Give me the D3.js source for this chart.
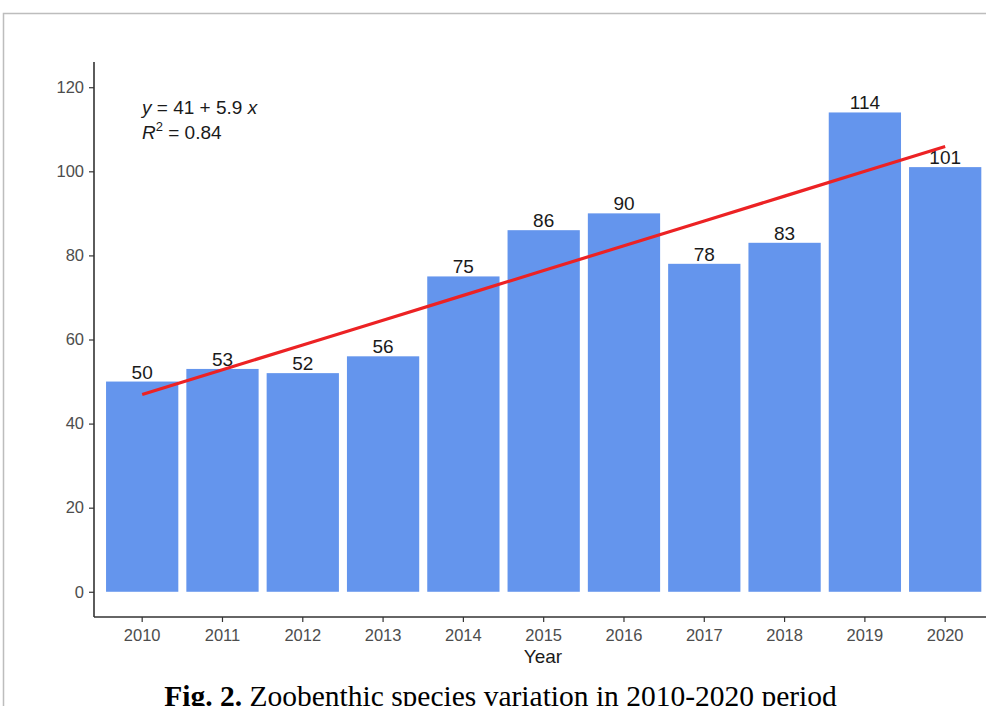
<!DOCTYPE html>
<html>
<head>
<meta charset="utf-8">
<script src="https://cdn.jsdelivr.net/npm/d3@7"></script>
<style>
  html, body { margin: 0; padding: 0; background: #fff; }
  svg { display: block; }
</style>
</head>
<body>
<svg id="chart" width="986" height="706"></svg>
<script>
const years = ["2010","2011","2012","2013","2014","2015","2016","2017","2018","2019","2020"];
const species = [50, 53, 52, 56, 75, 86, 90, 78, 83, 114, 101];
const yTicks = [0, 20, 40, 60, 80, 100, 120];
const fitIntercept = 41;
const fitSlope = 5.9;
const r2 = "0.84";

(function () {
const svg = d3.select("#chart");
const W = 986, H = 706;
const sans = "'Liberation Sans', Arial, Helvetica, sans-serif";

// figure frame
svg.append("rect").attr("x", 3.5).attr("y", 13.5).attr("width", W + 10).attr("height", H + 10)
  .attr("fill", "none").attr("stroke", "#bdbdbd").attr("stroke-width", 1.5);

const pLeft = 94, pBottom = 617, pTop = 62;
const step = 80.3;
const xRight = pLeft + step * (years.length + 0.2);

const x = d3.scaleBand().domain(years).range([pLeft + 0.1 * step, xRight - 0.1 * step]).paddingInner(0.1).paddingOuter(0.05);
const y = d3.scaleLinear().domain([-6, 126]).range([pBottom, pTop]);

const g = svg.append("g");

// bars
g.selectAll("rect.bar").data(years).enter().append("rect")
  .attr("class", "bar")
  .attr("x", d => x(d))
  .attr("width", x.bandwidth())
  .attr("y", (d, i) => y(species[i]))
  .attr("height", (d, i) => y(0) - y(species[i]))
  .attr("fill", "#6495ED");

// bar labels
g.selectAll("text.lab").data(years).enter().append("text")
  .attr("class", "lab")
  .attr("x", d => x(d) + x.bandwidth() / 2)
  .attr("y", (d, i) => y(species[i]) - 3)
  .attr("text-anchor", "middle")
  .attr("font-family", sans).attr("font-size", 19).attr("fill", "#1a1a1a")
  .text((d, i) => species[i]);

// regression line
const xc = d => x(d) + x.bandwidth() / 2;
const line = d3.line().x(d => xc(d)).y((d, i) => y(fitIntercept + fitSlope * (i + 1)));
g.append("path").datum(years).attr("d", line)
  .attr("fill", "none").attr("stroke", "#ec2224").attr("stroke-width", 3.2);

// axes
const yAxis = d3.axisLeft(y).tickValues(yTicks).tickSize(5).tickPadding(5);
const ya = svg.append("g").attr("transform", `translate(${pLeft},0)`).call(yAxis);
ya.select(".domain").attr("stroke", "#333").attr("stroke-width", 1.6).attr("d", `M0,${pTop}V${pBottom}`);
ya.selectAll(".tick line").attr("stroke", "#333").attr("stroke-width", 1.2);
ya.selectAll(".tick text").attr("font-family", sans).attr("font-size", 16.5).attr("fill", "#4d4d4d");

const xAxis = d3.axisBottom(x).tickSize(5).tickPadding(4);
const xa = svg.append("g").attr("transform", `translate(0,${pBottom})`).call(xAxis);
xa.select(".domain").attr("stroke", "#333").attr("stroke-width", 1.6).attr("d", `M${pLeft},0H${xRight}`);
xa.selectAll(".tick line").attr("stroke", "#333").attr("stroke-width", 1.2);
xa.selectAll(".tick text").attr("font-family", sans).attr("font-size", 16.5).attr("fill", "#4d4d4d").attr("dy", "0.88em");

// axis title
svg.append("text").attr("x", 543).attr("y", 663).attr("text-anchor", "middle")
  .attr("font-family", sans).attr("font-size", 19).attr("fill", "#1a1a1a").text("Year");

// equation
const eq = svg.append("text").attr("x", 142).attr("y", 114).attr("font-family", sans).attr("font-size", 19).attr("fill", "#1a1a1a");
eq.append("tspan").attr("font-style", "italic").text("y");
eq.append("tspan").text(` = ${fitIntercept} + ${fitSlope} `);
eq.append("tspan").attr("font-style", "italic").text("x");
const eq2 = svg.append("text").attr("x", 142).attr("y", 139).attr("font-family", sans).attr("font-size", 19).attr("fill", "#1a1a1a");
eq2.append("tspan").attr("font-style", "italic").text("R");
eq2.append("tspan").attr("font-size", 13).attr("dy", -8).text("2");
eq2.append("tspan").attr("dy", 8).text(` = ${r2}`);

// caption
const cap = svg.append("text").attr("x", 500.5).attr("y", 706).attr("text-anchor", "middle")
  .attr("font-family", "'Liberation Serif', 'Times New Roman', serif").attr("font-size", 29.5).attr("fill", "#000");
cap.append("tspan").attr("font-weight", "bold").text("Fig. 2.");
cap.append("tspan").text(" Zoobenthic species variation in 2010-2020 period");
})();
</script>
</body>
</html>
